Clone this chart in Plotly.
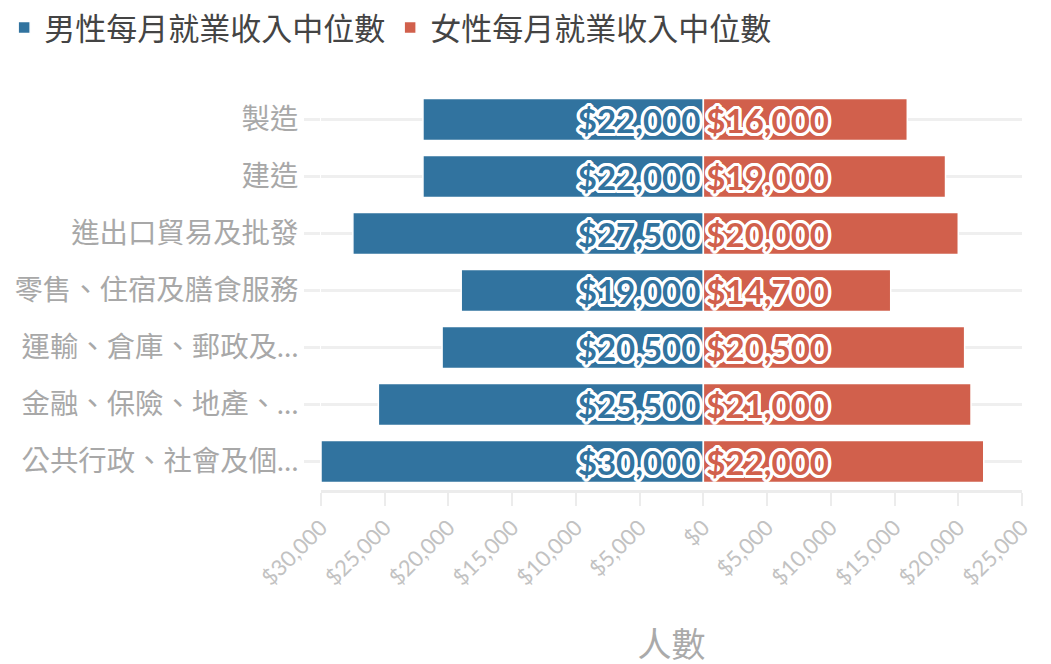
import plotly.graph_objects as go

categories = ["製造", "建造", "進出口貿易及批發", "零售、住宿及膳食服務",
              "運輸、倉庫、郵政及…", "金融、保險、地產、…", "公共行政、社會及個…"]
male = [22000, 22000, 27500, 19000, 20500, 25500, 30000]
female = [16000, 19000, 20000, 14700, 20500, 21000, 22000]
tick_vals = [-30000, -25000, -20000, -15000, -10000, -5000, 0, 5000, 10000, 15000, 20000, 25000]
tick_text = ["$30,000", "$25,000", "$20,000", "$15,000", "$10,000", "$5,000", "$0",
             "$5,000", "$10,000", "$15,000", "$20,000", "$25,000"]
series_names = ["男性每月就業收入中位數", "女性每月就業收入中位數"]
axis_title = "人數"

BLUE = "#31739f"
RED = "#d1604c"
FONT = "Lato, 'Noto Sans CJK TC', sans-serif"
offs = [(3, 0), (-3, 0), (0, 3), (0, -3), (2, 2), (-2, -2), (2, -2), (-2, 2),
        (3, 1), (3, -1), (-3, 1), (-3, -1), (1, 3), (-1, 3), (1, -3), (-1, -3)]
halo = ", ".join(f"{dx}px {dy}px 0 white" for dx, dy in offs)

def fmt(v):
    return "${:,}".format(v)

fig = go.Figure()
fig.add_trace(go.Bar(
    y=categories, x=[-v for v in male], orientation="h", name=series_names[0],
    marker=dict(color=BLUE, line=dict(color="white", width=1.5)),
    text=[fmt(v) for v in male], textposition="inside", insidetextanchor="start",
    constraintext="none",
    textfont=dict(family=FONT, size=33, color=BLUE, weight="bold", shadow=halo),
    hoverinfo="skip",
))
fig.add_trace(go.Bar(
    y=categories, x=female, orientation="h", name=series_names[1],
    marker=dict(color=RED, line=dict(color="white", width=1.5)),
    text=[fmt(v) for v in female], textposition="inside", insidetextanchor="start",
    constraintext="none",
    textfont=dict(family=FONT, size=33, color=RED, weight="bold", shadow=halo),
    hoverinfo="skip",
))

fig.update_layout(
    width=1051, height=664,
    margin=dict(l=321, r=29, t=91, b=174, autoexpand=False),
    paper_bgcolor="white", plot_bgcolor="white",
    barmode="relative", bargap=0.26,
    font=dict(family=FONT),
    legend=dict(orientation="h", xref="paper", yref="paper",
                x=-0.452, y=1.226, xanchor="left", yanchor="top",
                font=dict(size=31, color="#444", family=FONT),
                traceorder="normal"),
    xaxis=dict(
        range=[-30000, 25000], tickvals=tick_vals, ticktext=tick_text,
        tickangle=-45, tickfont=dict(size=22, color="#c2c2c2", family=FONT),
        showgrid=False, zeroline=False,
        showline=True, linecolor="#ececec", linewidth=3,
        ticks="outside", ticklen=13, tickwidth=2, tickcolor="#ececec",
        title=dict(text=axis_title, font=dict(size=34, color="#aaaaaa", family=FONT), standoff=48),
    ),
    yaxis=dict(
        autorange="reversed",
        tickfont=dict(size=28.4, color="#a8a8a8", family=FONT),
        showgrid=True, gridcolor="#efefef", gridwidth=3,
        ticks="outside", ticklen=16, tickwidth=3, tickcolor="#efefef",
        showline=False, zeroline=False,
    ),
)

fig.write_html("out.html")
